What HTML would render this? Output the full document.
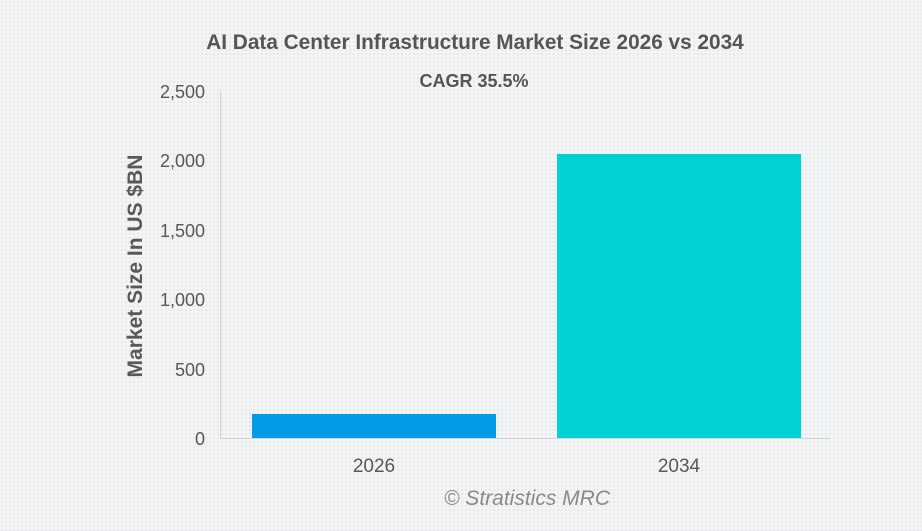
<!DOCTYPE html>
<html><head><meta charset="utf-8"><style>
body{margin:0;width:922px;height:531px;overflow:hidden;background-color:#f3f4f6;background-image:radial-gradient(#e3e4e7 0.8px,transparent 0.9px);background-size:4px 4px;font-family:"Liberation Sans",sans-serif;}
svg{position:absolute;left:0;top:0}
</style></head><body>
<svg width="922" height="531" xmlns="http://www.w3.org/2000/svg" font-family="Liberation Sans, sans-serif">
<text x="475" y="49" text-anchor="middle" font-size="20.8" font-weight="bold" fill="#555">AI Data Center Infrastructure Market Size 2026 vs 2034</text>
<text x="474" y="87" text-anchor="middle" font-size="18" font-weight="bold" fill="#555">CAGR 35.5%</text>
<line x1="220.5" y1="91" x2="220.5" y2="438" stroke="#d4d4d4"/>
<line x1="220" y1="438.5" x2="830" y2="438.5" stroke="#d4d4d4"/>
<g font-size="18" fill="#595959" text-anchor="end">
<text x="205" y="98">2,500</text>
<text x="205" y="167">2,000</text>
<text x="205" y="237">1,500</text>
<text x="205" y="306">1,000</text>
<text x="205" y="376">500</text>
<text x="205" y="445">0</text>
</g>
<rect x="252" y="414" width="244" height="24" fill="#039be5"/>
<rect x="557" y="154" width="244" height="284" fill="#00d2d3"/>
<g font-size="19" fill="#595959" text-anchor="middle">
<text x="374" y="472">2026</text>
<text x="679" y="472">2034</text>
</g>
<text transform="translate(142,266) rotate(-90)" text-anchor="middle" font-size="21" font-weight="bold" fill="#595959">Market Size In US $BN</text>
<text x="527" y="505" text-anchor="middle" font-size="21" font-style="italic" fill="#8a8a8a">© Stratistics MRC</text>
</svg>
</body></html>
